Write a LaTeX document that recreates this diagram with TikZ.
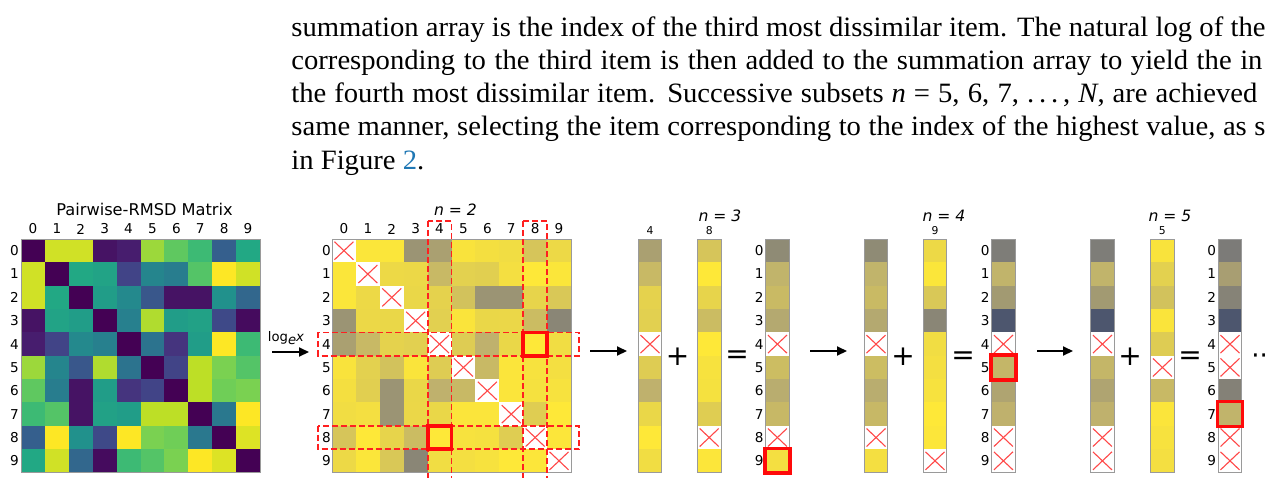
\documentclass[tikz,border=0pt]{standalone}
\usepackage{fontspec}
\usepackage{xcolor}
\usepackage{graphicx}
\usepackage{tikz}
\usetikzlibrary{arrows.meta}
\newfontfamily\bodyfont{Liberation Serif}
\newfontfamily\plotfont{DejaVu Sans}
\definecolor{vir0}{HTML}{440154}
\definecolor{vir1}{HTML}{482475}
\definecolor{vir2}{HTML}{414487}
\definecolor{vir3}{HTML}{355F8D}
\definecolor{vir4}{HTML}{2A788E}
\definecolor{vir5}{HTML}{21918C}
\definecolor{vir6}{HTML}{22A884}
\definecolor{vir7}{HTML}{44BF70}
\definecolor{vir8}{HTML}{7AD151}
\definecolor{vir9}{HTML}{BDDF26}
\definecolor{vir10}{HTML}{FDE725}
\definecolor{civ0}{HTML}{00224E}
\definecolor{civ1}{HTML}{414D6B}
\definecolor{civ2}{HTML}{7C7B78}
\definecolor{civ3}{HTML}{BCAF6F}
\definecolor{civ4}{HTML}{FEE838}
\definecolor{hot}{HTML}{FF0A0A}
\definecolor{bandred}{HTML}{FF2020}
\definecolor{crossred}{HTML}{FF4848}
\definecolor{linkblue}{HTML}{1F77B4}
\definecolor{framegrey}{HTML}{9A9A9A}

\newlength\linew
\def\rmsd{{0,.93,.93,.05,.08,.85,.75,.68,.30,.60,
 .93,0,.60,.58,.20,.45,.42,.73,1,.93,
 .93,.60,0,.55,.47,.27,.05,.05,.50,.33,
 .05,.58,.55,0,.43,.88,.55,.57,.22,.03,
 .08,.20,.47,.43,0,.38,.15,.55,1,.68,
 .85,.45,.27,.88,.38,0,.20,.90,.80,.73,
 .75,.42,.05,.55,.15,.20,0,.90,.78,.80,
 .68,.73,.05,.57,.55,.90,.90,0,.40,1,
 .30,1,.50,.22,1,.80,.78,.40,0,.95,
 .60,.93,.33,.03,.68,.73,.80,1,.95,0}}
\def\sumiii{{.575,.77,.80,.72,-1,.81,.74,.79,-1,.96}}
\def\sumiv{{.51,.77,.65,.30,-1,.78,.70,.76,-1,-1}}
\def\sumv{{.50,.67,.54,.30,-1,-1,.53,.77,-1,-1}}

\newcommand\setvir[1]{%
  \pgfmathtruncatemacro\ck{min(9,floor((#1)*10))}%
  \pgfmathtruncatemacro\ckk{\ck+1}%
  \pgfmathsetmacro\cp{round(((#1)*10-\ck)*100)}%
  \colorlet{cellc}{vir\ckk!\cp!vir\ck}}
\newcommand\setciv[1]{%
  \pgfmathtruncatemacro\ck{min(3,floor((#1)*4))}%
  \pgfmathtruncatemacro\ckk{\ck+1}%
  \pgfmathsetmacro\cp{round(((#1)*4-\ck)*100)}%
  \colorlet{cellc}{civ\ckk!\cp!civ\ck}}
\newcommand\civcell[4]{%
  \pgfmathtruncatemacro\isx{(#4)<0}%
  \ifnum\isx=1
    \fill[white] ({#1},{#2}) rectangle ++({#3},23.35);
    \draw[xmark] ({(#1)+#3/2-9.5},{(#2)+2.7}) -- ++(19,18);
    \draw[xmark] ({(#1)+#3/2+9.5},{(#2)+2.7}) -- ++(-19,18);
  \else
    \setciv{#4}\fill[cellc] ({#1},{#2}) rectangle ++({#3},23.35);
  \fi}
\newcommand\rmsdcol[3]{%
  \foreach \i in {0,...,9}{%
    \pgfmathsetmacro\val{\rmsd[#2*10+\i]}%
    \pgfmathsetmacro\tv{\val>0 ? 1+ln(max(\val,0.001))/7.88 : -1}%
    \civcell{#1}{239+\i*23.35}{23.4}{\tv}}
  \draw[frame] (#1,239) rectangle ++(23.4,233.5);
  \node[smalltick] (#3) at ({#1+11.7},230.5) {#2};}
\newcommand\sumcol[3]{%
  \foreach \i in {0,...,9}{%
    \pgfmathsetmacro\tv{#2[\i]}%
    \civcell{#1}{239+\i*23.35}{23.4}{\tv}
    \node[tick] (#3r\i) at ({#1-6.5},{239+(\i+.5)*23.35}) {\i};}
  \draw[frame] (#1,239) rectangle ++(23.4,233.5);}
\newcommand\sumcolbare[2]{%
  \foreach \i in {0,...,9}{%
    \pgfmathsetmacro\tv{#2[\i]}%
    \civcell{#1}{239+\i*23.35}{23.4}{\tv}}
  \draw[frame] (#1,239) rectangle ++(23.4,233.5);}
\newcommand\jline[2]{\makebox[#1][s]{#2}}

\begin{document}
\settowidth\linew{\bodyfont\fontsize{14}{16}\selectfont summation array is the index of the third most dissimilar item.}%
\pgfmathsetmacro\tsx{357.5/\linew}%
\pgfmathsetlengthmacro\wlone{487pt/\tsx}%
\pgfmathsetlengthmacro\wltwo{485.5pt/\tsx}%
\pgfmathsetlengthmacro\wlthree{483pt/\tsx}%
\pgfmathsetlengthmacro\wlfour{487pt/\tsx}%
\begin{tikzpicture}[x=0.5pt,y=-0.5pt,
  bodyline/.style={anchor=base west,inner sep=0pt,font=\bodyfont\fontsize{14}{16}\selectfont},
  tick/.style={font=\plotfont\fontsize{6.8}{6.8}\selectfont,inner sep=0pt},
  smalltick/.style={font=\plotfont\fontsize{5.4}{5.4}\selectfont,inner sep=0pt},
  heading/.style={font=\plotfont\itshape\fontsize{7.8}{7.8}\selectfont,inner sep=0pt},
  optext/.style={font=\plotfont\fontsize{14}{14}\selectfont,inner sep=0pt},
  frame/.style={draw=framegrey,line width=0.4pt},
  picked/.style={draw=hot,line width=1.9pt},
  band/.style={draw=bandred,line width=0.9pt,dash pattern=on 3pt off 1.5pt},
  xmark/.style={draw=crossred,line width=0.55pt},
  arrow/.style={-{Triangle[length=5pt,width=4.5pt]},line width=1pt}
]
\useasboundingbox (0,0) rectangle (1268,477);
\begin{scope}
\clip (0,0) rectangle (1268,477);
\node[bodyline] (txt1) at (291,36) {\scalebox{\tsx}[1]{\jline{\wlone}{summation array is the index of the third most dissimilar item. The natural log of the}}};
\node[bodyline] (txt2) at (291,69.25) {\scalebox{\tsx}[1]{\jline{\wltwo}{corresponding to the third item is then added to the summation array to yield the in}}};
\node[bodyline] (txt3) at (291,102.5) {\scalebox{\tsx}[1]{\jline{\wlthree}{the fourth most dissimilar item. Successive subsets \textit{n} = 5, 6, 7, .\,.\,.\,, \textit{N}, are achieved}}};
\node[bodyline] (txt4) at (291,135.75) {\scalebox{\tsx}[1]{\jline{\wlfour}{same manner, selecting the item corresponding to the index of the highest value, as s}}};
\node[bodyline] (txt5) at (291,169) {\scalebox{\tsx}[1]{in Figure \textcolor{linkblue}{2}.}};

% pairwise matrix
\foreach \i in {0,...,9}{
  \foreach \j in {0,...,9}{
    \pgfmathsetmacro\val{\rmsd[\i*10+\j]}
    \setvir{\val}
    \fill[cellc] ({21+\j*23.9},{239+\i*23.35}) rectangle ++(23.9,23.35);
  }
  \node[tick] (mac\i) at ({21+(\i+.5)*23.9},229) {\i};
  \node[tick] (mar\i) at (14.5,{239+(\i+.5)*23.35}) {\i};
}
\draw[frame] (21,239) rectangle (260,472.5);
\node[font=\plotfont\fontsize{8.1}{8.1}\selectfont,inner sep=0pt] (mtitle) at (144.5,209.5) {Pairwise-RMSD Matrix};

\node[font=\plotfont\fontsize{6.6}{6.6}\selectfont,inner sep=0pt] (logl) at (286,338) {log\raisebox{-1.3pt}{\itshape e}\itshape x};
\coordinate (loga) at (272,352);
\coordinate (logb) at (309,352);
\draw[arrow] (loga) -- (logb);

% log matrix, n = 2
\foreach \i in {0,...,9}{
  \foreach \j in {0,...,9}{
    \pgfmathsetmacro\val{\rmsd[\i*10+\j]}
    \pgfmathsetmacro\tv{\val>0 ? 1+ln(max(\val,0.001))/7.88 : -1}
    \civcell{332+\j*23.9}{239+\i*23.35}{23.9}{\tv}
  }
  \node[tick] (lmc\i) at ({332+(\i+.5)*23.9},229) {\i};
  \node[tick] (lmr\i) at (326.5,{239+(\i+.5)*23.35}) {\i};
}
\draw[frame] (332,239) rectangle (571,472.5);
\draw[band] (427.6,221) rectangle (451.5,479);
\draw[band] (523.2,221) rectangle (547.1,479);
\draw[band] (318,332.4) rectangle (579,355.8);
\draw[band] (318,425.8) rectangle (579,449.2);
\draw[picked] (523.2,332.4) rectangle (547.1,355.8);
\draw[picked] (427.6,425.8) rectangle (451.5,449.2);
\node[heading] (ntwo) at (455.5,210) {n = 2};

% n = 3
\coordinate (aa) at (590,351);
\coordinate (ab) at (627,351);
\draw[arrow] (aa) -- (ab);
\rmsdcol{638.3}{4}{cfour}
\node[optext] (plusa) at (677.7,357) {+};
\rmsdcol{697.5}{8}{ceight}
\node[heading] (nthree) at (720,215.5) {n = 3};
\node[optext] (eqa) at (737,357) {=};
\sumcol{765.7}{\sumiii}{sa}
\draw[picked] (764.9,448.4) rectangle (789.9,473.3);

% n = 4
\coordinate (ba) at (810,351);
\coordinate (bb) at (847,351);
\draw[arrow] (ba) -- (bb);
\sumcolbare{864.3}{\sumiii}
\node[optext] (plusb) at (903,357) {+};
\rmsdcol{923.3}{9}{cnine}
\node[heading] (nfour) at (944,215.5) {n = 4};
\node[optext] (eqb) at (963,358) {=};
\sumcol{991.7}{\sumiv}{sb}
\draw[picked] (990.9,354.7) rectangle (1015.9,379.7);

% n = 5
\coordinate (ca) at (1037,351);
\coordinate (cb) at (1073,351);
\draw[arrow] (ca) -- (cb);
\sumcolbare{1090.7}{\sumiv}
\node[optext] (plusc) at (1130,357) {+};
\rmsdcol{1150.7}{5}{cfive}
\node[heading] (nfive) at (1170,215.5) {n = 5};
\node[optext] (eqc) at (1190,358) {=};
\sumcol{1218.3}{\sumv}{sc}
\draw[picked] (1217.5,401.4) rectangle (1242.5,426.4);
\node[font=\plotfont\fontsize{13}{13}\selectfont,inner sep=0pt,anchor=base west] (more) at (1251,364.5) {··};
\end{scope}
\end{tikzpicture}
\end{document}
